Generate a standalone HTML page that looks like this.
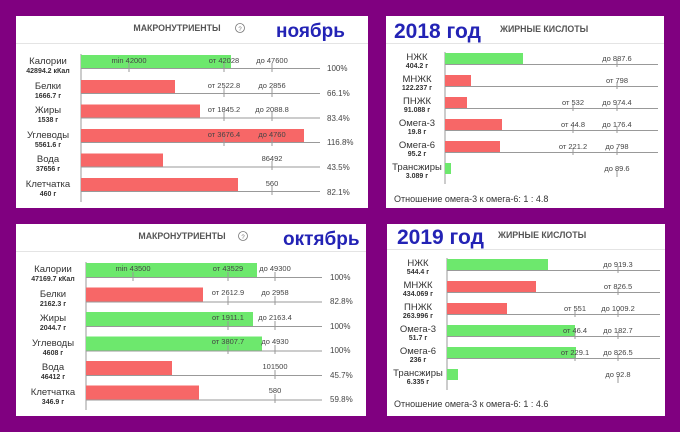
<!DOCTYPE html>
<html><head><meta charset="utf-8"><style>
html,body{margin:0;padding:0;background:#800080;}
svg{display:block}
text{font-family:"Liberation Sans","DejaVu Sans",sans-serif;}
.n{font-size:9.5px;fill:#333;text-anchor:middle}
.v{font-size:7px;font-weight:bold;fill:#333;text-anchor:middle}
.l{font-size:7.5px;fill:#444;text-anchor:middle}
.p{font-size:8px;fill:#444}
.g{fill:#6de86d}
.r{fill:#f76767}
.ax{stroke:#999;stroke-width:1}
.h{font-size:8.8px;font-weight:bold;fill:#555}
.t{font-weight:bold;fill:#2323b5}
</style></head><body>
<svg width="680" height="432" viewBox="0 0 680 432">
<rect width="680" height="432" fill="#800080"/>
<!-- Panel 1 -->
<rect x="16" y="16" width="352" height="192" fill="#fff"/>
<line x1="16" y1="43.5" x2="368" y2="43.5" stroke="#e4e4e4"/>
<text x="177" y="31" class="h" text-anchor="middle">МАКРОНУТРИЕНТЫ</text>
<circle cx="240" cy="28" r="4.5" fill="none" stroke="#777" stroke-width="0.8"/><text x="240" y="31" font-size="6" fill="#777" text-anchor="middle">?</text>
<text x="276" y="37" class="t" font-size="19">ноябрь</text>
<line x1="81" y1="54" x2="81" y2="202" class="ax"/>
<g>
<rect x="81" y="55" width="150" height="13" class="g"/><line x1="81" y1="68.5" x2="320" y2="68.5" class="ax"/>
<line x1="129" y1="63" x2="129" y2="72" class="ax"/><line x1="224" y1="63" x2="224" y2="72" class="ax"/><line x1="272" y1="63" x2="272" y2="72" class="ax"/>
<text x="129" y="63" class="l">min 42000</text><text x="224" y="63" class="l">от 42028</text><text x="272" y="63" class="l">до 47600</text>
<text x="327" y="71" class="p">100%</text>
<text x="48" y="64" class="n">Калории</text><text x="48" y="73" class="v">42894.2 кКал</text>
</g>
<g>
<rect x="81" y="80" width="94" height="13" class="r"/><line x1="81" y1="93.5" x2="320" y2="93.5" class="ax"/>
<line x1="224" y1="88" x2="224" y2="97" class="ax"/><line x1="272" y1="88" x2="272" y2="97" class="ax"/>
<text x="224" y="88" class="l">от 2522.8</text><text x="272" y="88" class="l">до 2856</text>
<text x="327" y="96" class="p">66.1%</text>
<text x="48" y="89" class="n">Белки</text><text x="48" y="98" class="v">1666.7 г</text>
</g>
<g>
<rect x="81" y="104.5" width="119" height="13" class="r"/><line x1="81" y1="118" x2="320" y2="118" class="ax"/>
<line x1="224" y1="112" x2="224" y2="121" class="ax"/><line x1="272" y1="112" x2="272" y2="121" class="ax"/>
<text x="224" y="112" class="l">от 1845.2</text><text x="272" y="112" class="l">до 2088.8</text>
<text x="327" y="121" class="p">83.4%</text>
<text x="48" y="113" class="n">Жиры</text><text x="48" y="122" class="v">1538 г</text>
</g>
<g>
<rect x="81" y="129" width="223" height="13" class="r"/><line x1="81" y1="142.5" x2="320" y2="142.5" class="ax"/>
<line x1="224" y1="137" x2="224" y2="146" class="ax"/><line x1="272" y1="137" x2="272" y2="146" class="ax"/>
<text x="224" y="137" class="l">от 3676.4</text><text x="272" y="137" class="l">до 4760</text>
<text x="327" y="145" class="p">116.8%</text>
<text x="48" y="138" class="n">Углеводы</text><text x="48" y="147" class="v">5561.6 г</text>
</g>
<g>
<rect x="81" y="153.5" width="82" height="13" class="r"/><line x1="81" y1="167" x2="320" y2="167" class="ax"/>
<line x1="272" y1="161" x2="272" y2="170" class="ax"/>
<text x="272" y="161" class="l">86492</text>
<text x="327" y="170" class="p">43.5%</text>
<text x="48" y="162" class="n">Вода</text><text x="48" y="171" class="v">37656 г</text>
</g>
<g>
<rect x="81" y="178" width="157" height="13" class="r"/><line x1="81" y1="191.5" x2="320" y2="191.5" class="ax"/>
<line x1="272" y1="186" x2="272" y2="195" class="ax"/>
<text x="272" y="186" class="l">560</text>
<text x="327" y="195" class="p">82.1%</text>
<text x="48" y="187" class="n">Клетчатка</text><text x="48" y="196" class="v">460 г</text>
</g>

<!-- Panel 3 -->
<rect x="16" y="224" width="350" height="192" fill="#fff"/>
<line x1="16" y1="251.5" x2="366" y2="251.5" stroke="#e4e4e4"/>
<text x="182" y="239" class="h" text-anchor="middle">МАКРОНУТРИЕНТЫ</text>
<circle cx="243" cy="236" r="4.5" fill="none" stroke="#777" stroke-width="0.8"/><text x="243" y="239" font-size="6" fill="#777" text-anchor="middle">?</text>
<text x="283" y="245" class="t" font-size="19">октябрь</text>
<line x1="86" y1="262" x2="86" y2="410" class="ax"/>
<g>
<rect x="86" y="263" width="171" height="14" class="g"/><line x1="86" y1="277.5" x2="322" y2="277.5" class="ax"/>
<line x1="133" y1="272" x2="133" y2="281" class="ax"/><line x1="228" y1="272" x2="228" y2="281" class="ax"/><line x1="275" y1="272" x2="275" y2="281" class="ax"/>
<text x="133" y="271" class="l">min 43500</text><text x="228" y="271" class="l">от 43529</text><text x="275" y="271" class="l">до 49300</text>
<text x="330" y="280" class="p">100%</text>
<text x="53" y="272" class="n">Калории</text><text x="53" y="281" class="v">47169.7 кКал</text>
</g>
<g>
<rect x="86" y="287.5" width="117" height="14" class="r"/><line x1="86" y1="302" x2="322" y2="302" class="ax"/>
<line x1="228" y1="296" x2="228" y2="305" class="ax"/><line x1="275" y1="296" x2="275" y2="305" class="ax"/>
<text x="228" y="295" class="l">от 2612.9</text><text x="275" y="295" class="l">до 2958</text>
<text x="330" y="304" class="p">82.8%</text>
<text x="53" y="297" class="n">Белки</text><text x="53" y="306" class="v">2162.3 г</text>
</g>
<g>
<rect x="86" y="312" width="167" height="14" class="g"/><line x1="86" y1="326.5" x2="322" y2="326.5" class="ax"/>
<line x1="228" y1="321" x2="228" y2="330" class="ax"/><line x1="275" y1="321" x2="275" y2="330" class="ax"/>
<text x="228" y="320" class="l">от 1911.1</text><text x="275" y="320" class="l">до 2163.4</text>
<text x="330" y="329" class="p">100%</text>
<text x="53" y="321" class="n">Жиры</text><text x="53" y="330" class="v">2044.7 г</text>
</g>
<g>
<rect x="86" y="336.5" width="176" height="14" class="g"/><line x1="86" y1="351" x2="322" y2="351" class="ax"/>
<line x1="228" y1="345" x2="228" y2="354" class="ax"/><line x1="275" y1="345" x2="275" y2="354" class="ax"/>
<text x="228" y="344" class="l">от 3807.7</text><text x="275" y="344" class="l">до 4930</text>
<text x="330" y="353" class="p">100%</text>
<text x="53" y="346" class="n">Углеводы</text><text x="53" y="355" class="v">4608 г</text>
</g>
<g>
<rect x="86" y="361" width="86" height="14" class="r"/><line x1="86" y1="375.5" x2="322" y2="375.5" class="ax"/>
<line x1="275" y1="370" x2="275" y2="379" class="ax"/>
<text x="275" y="369" class="l">101500</text>
<text x="330" y="378" class="p">45.7%</text>
<text x="53" y="370" class="n">Вода</text><text x="53" y="379" class="v">46412 г</text>
</g>
<g>
<rect x="86" y="385.5" width="113" height="14" class="r"/><line x1="86" y1="400" x2="322" y2="400" class="ax"/>
<line x1="275" y1="394" x2="275" y2="403" class="ax"/>
<text x="275" y="393" class="l">580</text>
<text x="330" y="402" class="p">59.8%</text>
<text x="53" y="395" class="n">Клетчатка</text><text x="53" y="404" class="v">346.9 г</text>
</g>

<!-- Panel 2 -->
<rect x="386" y="16" width="278" height="192" fill="#fff"/>
<line x1="386" y1="43.5" x2="664" y2="43.5" stroke="#e4e4e4"/>
<text x="394" y="38" class="t" font-size="21">2018 год</text>
<text x="500" y="32" class="h">ЖИРНЫЕ КИСЛОТЫ</text>
<line x1="445" y1="52" x2="445" y2="184" class="ax"/>
<g>
<rect x="445" y="53" width="78" height="11" class="g"/><line x1="445" y1="64.5" x2="658" y2="64.5" class="ax"/>
<line x1="617" y1="60" x2="617" y2="67" class="ax"/>
<text x="617" y="61" class="l">до 887.6</text>
<text x="417" y="60" class="n">НЖК</text><text x="417" y="68" class="v">404.2 г</text>
</g>
<g>
<rect x="445" y="75" width="26" height="11" class="r"/><line x1="445" y1="86.5" x2="658" y2="86.5" class="ax"/>
<line x1="617" y1="82" x2="617" y2="89" class="ax"/>
<text x="617" y="83" class="l">от 798</text>
<text x="417" y="82" class="n">МНЖК</text><text x="417" y="90" class="v">122.237 г</text>
</g>
<g>
<rect x="445" y="97" width="22" height="11" class="r"/><line x1="445" y1="108.5" x2="658" y2="108.5" class="ax"/>
<line x1="573" y1="104" x2="573" y2="111" class="ax"/><line x1="617" y1="104" x2="617" y2="111" class="ax"/>
<text x="573" y="105" class="l">от 532</text><text x="617" y="105" class="l">до 974.4</text>
<text x="417" y="104" class="n">ПНЖК</text><text x="417" y="112" class="v">91.088 г</text>
</g>
<g>
<rect x="445" y="119" width="57" height="11" class="r"/><line x1="445" y1="130.5" x2="658" y2="130.5" class="ax"/>
<line x1="573" y1="126" x2="573" y2="133" class="ax"/><line x1="617" y1="126" x2="617" y2="133" class="ax"/>
<text x="573" y="127" class="l">от 44.8</text><text x="617" y="127" class="l">до 176.4</text>
<text x="417" y="126" class="n">Омега-3</text><text x="417" y="134" class="v">19.8 г</text>
</g>
<g>
<rect x="445" y="141" width="55" height="11" class="r"/><line x1="445" y1="152.5" x2="658" y2="152.5" class="ax"/>
<line x1="573" y1="148" x2="573" y2="155" class="ax"/><line x1="617" y1="148" x2="617" y2="155" class="ax"/>
<text x="573" y="149" class="l">от 221.2</text><text x="617" y="149" class="l">до 798</text>
<text x="417" y="148" class="n">Омега-6</text><text x="417" y="156" class="v">95.2 г</text>
</g>
<g>
<rect x="445" y="163" width="6" height="11" class="g"/>
<line x1="617" y1="170" x2="617" y2="177" class="ax"/>
<text x="617" y="171" class="l">до 89.6</text>
<text x="417" y="170" class="n">Трансжиры</text><text x="417" y="178" class="v">3.089 г</text>
</g>
<text x="394" y="202" font-size="9" fill="#333">Отношение омега-3 к омега-6: 1 : 4.8</text>

<!-- Panel 4 -->
<rect x="387" y="224" width="278" height="192" fill="#fff"/>
<line x1="387" y1="249.5" x2="665" y2="249.5" stroke="#e4e4e4"/>
<text x="397" y="244" class="t" font-size="21">2019 год</text>
<text x="498" y="238" class="h">ЖИРНЫЕ КИСЛОТЫ</text>
<line x1="447" y1="258" x2="447" y2="390" class="ax"/>
<g>
<rect x="447" y="259" width="101" height="11" class="g"/><line x1="447" y1="270.5" x2="660" y2="270.5" class="ax"/>
<line x1="618" y1="266" x2="618" y2="273" class="ax"/>
<text x="618" y="267" class="l">до 919.3</text>
<text x="418" y="266" class="n">НЖК</text><text x="418" y="274" class="v">544.4 г</text>
</g>
<g>
<rect x="447" y="281" width="89" height="11" class="r"/><line x1="447" y1="292.5" x2="660" y2="292.5" class="ax"/>
<line x1="618" y1="288" x2="618" y2="295" class="ax"/>
<text x="618" y="289" class="l">от 826.5</text>
<text x="418" y="288" class="n">МНЖК</text><text x="418" y="296" class="v">434.069 г</text>
</g>
<g>
<rect x="447" y="303" width="60" height="11" class="r"/><line x1="447" y1="314.5" x2="660" y2="314.5" class="ax"/>
<line x1="575" y1="310" x2="575" y2="317" class="ax"/><line x1="618" y1="310" x2="618" y2="317" class="ax"/>
<text x="575" y="311" class="l">от 551</text><text x="618" y="311" class="l">до 1009.2</text>
<text x="418" y="310" class="n">ПНЖК</text><text x="418" y="318" class="v">263.996 г</text>
</g>
<g>
<rect x="447" y="325" width="128" height="11" class="g"/><line x1="447" y1="336.5" x2="660" y2="336.5" class="ax"/>
<line x1="575" y1="332" x2="575" y2="339" class="ax"/><line x1="618" y1="332" x2="618" y2="339" class="ax"/>
<text x="575" y="333" class="l">от 46.4</text><text x="618" y="333" class="l">до 182.7</text>
<text x="418" y="332" class="n">Омега-3</text><text x="418" y="340" class="v">51.7 г</text>
</g>
<g>
<rect x="447" y="347" width="129" height="11" class="g"/><line x1="447" y1="358.5" x2="660" y2="358.5" class="ax"/>
<line x1="575" y1="354" x2="575" y2="361" class="ax"/><line x1="618" y1="354" x2="618" y2="361" class="ax"/>
<text x="575" y="355" class="l">от 229.1</text><text x="618" y="355" class="l">до 826.5</text>
<text x="418" y="354" class="n">Омега-6</text><text x="418" y="362" class="v">236 г</text>
</g>
<g>
<rect x="447" y="369" width="11" height="11" class="g"/>
<line x1="618" y1="376" x2="618" y2="383" class="ax"/>
<text x="618" y="377" class="l">до 92.8</text>
<text x="418" y="376" class="n">Трансжиры</text><text x="418" y="384" class="v">6.335 г</text>
</g>
<text x="394" y="407" font-size="9" fill="#333">Отношение омега-3 к омега-6: 1 : 4.6</text>
</svg>
</body></html>
